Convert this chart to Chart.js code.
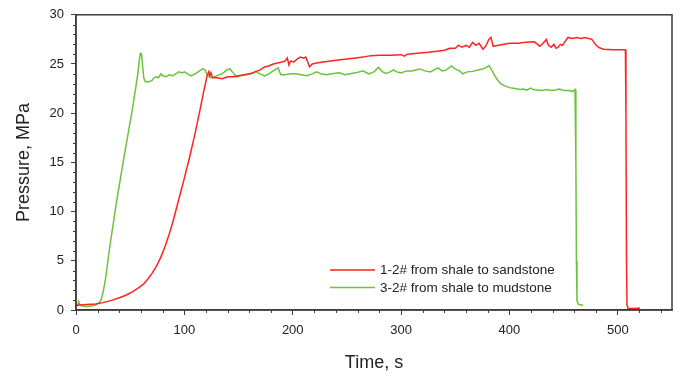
<!DOCTYPE html>
<html>
<head>
<meta charset="utf-8">
<script src="https://cdn.jsdelivr.net/npm/chart.js@4/dist/chart.umd.min.js"></script>
<style>
  html, body { margin: 0; padding: 0; background: #ffffff; }
  #wrap { width: 680px; height: 378px; position: relative; }
</style>
</head>
<body>
<div id="wrap"><canvas id="c"></canvas></div>
<script>
// ---- Data ----
const seriesNames = ['1-2# from shale to sandstone', '3-2# from shale to mudstone'];

const redTime = [0, 3, 10, 18, 25, 32, 40, 46, 52, 57, 62, 66, 70, 74, 78, 82, 86, 90, 95, 100,
  105, 110, 114, 118, 121, 122.5, 123.5, 124.5, 126, 130, 135, 140, 145, 150, 155, 160, 165, 170,
  174, 178, 182, 186, 190, 193, 195, 196.5, 198, 201, 204, 207, 210, 212, 213.5, 215.5, 218, 222,
  228, 235, 242, 250, 258, 265, 272, 280, 290, 300, 303, 306, 315, 325, 333, 340, 345, 350, 353,
  356, 360, 363, 366, 369, 372, 375.5, 378, 381, 383, 385, 390, 395, 400, 408, 415, 423, 426, 428,
  431, 434, 436, 438.5, 441, 443, 445, 447, 449, 452, 454, 458, 462, 466, 470, 473, 476, 478, 480,
  483, 487, 495, 507, 507.5, 508, 508.5, 509.5, 515, 520.5];
const redPressure = [0.45, 0.5, 0.55, 0.62, 0.75, 0.95, 1.25, 1.5, 1.85, 2.2, 2.6, 3.1, 3.7, 4.4,
  5.3, 6.4, 7.7, 9.2, 11.3, 13.4, 15.6, 18.0, 20.1, 22.3, 23.8, 24.2, 23.8, 24.1, 23.6, 23.6, 23.5,
  23.7, 23.7, 23.8, 23.9, 24.0, 24.2, 24.4, 24.7, 24.8, 25.0, 25.1, 25.2, 25.3, 25.6, 24.9, 25.3,
  25.2, 25.5, 25.7, 25.6, 25.7, 25.3, 24.7, 25.0, 25.1, 25.2, 25.3, 25.4, 25.5, 25.6, 25.7, 25.85,
  25.9, 25.9, 25.95, 25.8, 26.0, 26.1, 26.2, 26.3, 26.4, 26.6, 26.6, 26.9, 26.7, 26.9, 26.7, 27.2,
  26.9, 27.1, 26.5, 26.8, 27.5, 27.7, 26.8, 26.9, 27.0, 27.1, 27.1, 27.2, 27.25, 27.0, 26.8, 27.1,
  27.5, 26.9, 26.7, 27.0, 26.6, 26.7, 27.0, 26.9, 27.4, 27.7, 27.6, 27.7, 27.6, 27.7, 27.6, 27.5,
  27.2, 26.9, 26.65, 26.5, 26.45, 26.45, 20.0, 5.0, 0.5, 0.15, 0.15, 0.2];

const greenTime = [0, 1.5, 2.5, 3.5, 6, 10, 14, 18, 21, 23, 25, 27, 29, 31, 34, 37, 40, 43, 46, 49,
  52, 55, 57, 58.5, 59.5, 60.5, 61.5, 62.5, 64, 67, 70, 72, 74, 76, 78.5, 80, 83, 86, 89, 92, 95,
  98, 100, 103, 106, 110, 114, 117, 119, 121, 124, 128, 132, 136, 139, 142, 145, 148, 152, 157,
  162, 166, 170, 174, 178, 182, 186.5, 189, 193, 198, 203, 208, 213, 218, 222, 226, 231, 236, 243,
  248, 253, 258, 265, 270, 275, 279, 283, 286, 290, 293, 296, 300, 305, 310, 317, 322, 327, 334,
  338, 342, 346.5, 350, 354, 357, 361, 366, 371, 375, 378, 381, 383, 385, 387, 389.5, 392, 395,
  400, 405, 410, 413, 416, 419.5, 422, 426, 430, 434, 438, 442, 446, 450, 455, 458, 460.5, 461.3,
  461.8, 462.3, 463.5, 468];
const greenPressure = [0.3, 0.5, 0.85, 0.5, 0.4, 0.35, 0.4, 0.5, 0.7, 1.0, 1.8, 3.0, 4.6, 6.3, 8.5,
  10.7, 12.7, 14.7, 16.6, 18.5, 20.4, 22.5, 24.0, 25.5, 26.1, 26.0, 24.8, 23.6, 23.2, 23.2, 23.3,
  23.6, 23.7, 23.6, 24.0, 23.8, 23.7, 23.9, 23.8, 24.0, 24.2, 24.1, 24.2, 24.0, 23.8, 24.0, 24.3,
  24.5, 24.4, 23.9, 23.6, 23.7, 23.9, 24.1, 24.4, 24.5, 24.1, 23.7, 23.8, 23.9, 24.0, 24.2, 24.0,
  23.8, 24.0, 24.3, 24.6, 23.9, 23.9, 24.0, 24.0, 23.9, 23.8, 24.0, 24.2, 24.0, 23.9, 24.0, 24.1,
  23.9, 24.0, 24.1, 24.3, 24.0, 24.2, 24.65, 24.2, 24.05, 24.2, 24.4, 24.2, 24.1, 24.3, 24.3, 24.5,
  24.3, 24.2, 24.6, 24.3, 24.4, 24.8, 24.5, 24.3, 24.0, 24.2, 24.25, 24.4, 24.5, 24.6, 24.85, 24.5,
  24.1, 23.7, 23.3, 23.0, 22.8, 22.6, 22.5, 22.4, 22.45, 22.35, 22.55, 22.4, 22.35, 22.3, 22.4,
  22.3, 22.35, 22.45, 22.3, 22.3, 22.2, 22.4, 15.0, 5.0, 1.0, 0.6, 0.45];

const xRange = [0, 550];
const yRange = [0, 30];
const xMajorStep = 100, xMinorStep = 20;
const yMajorStep = 5, yMinorStep = 1;
const xTitle = 'Time, s';
const yTitle = 'Pressure, MPa';

// ---- Styling ----
const FONT = "'Liberation Sans', Arial, sans-serif";
const AXIS_COLOR = '#3c3c3c';
const TEXT_COLOR = '#222222';
const colors = ['#ff2222', '#6cc23a'];

function toPoints(xs, ys) { return xs.map((x, i) => ({ x: x, y: ys[i] })); }

const framePlugin = {
  id: 'frameAndMinor',
  afterDraw(chart) {
    const { ctx, chartArea: a, scales } = chart;
    ctx.save();
    ctx.strokeStyle = AXIS_COLOR;
    ctx.lineWidth = 1.5;
    ctx.strokeRect(a.left, a.top, a.right - a.left, a.bottom - a.top);
    // minor ticks
    ctx.lineWidth = 1;
    ctx.beginPath();
    for (let v = xRange[0]; v <= xRange[1]; v += xMinorStep) {
      if (v % xMajorStep === 0) continue;
      const px = Math.round(scales.x.getPixelForValue(v)) + 0.5;
      ctx.moveTo(px, a.bottom);
      ctx.lineTo(px, a.bottom + 3);
    }
    for (let v = yRange[0]; v <= yRange[1]; v += yMinorStep) {
      if (v % yMajorStep === 0) continue;
      const py = Math.round(scales.y.getPixelForValue(v)) + 0.5;
      ctx.moveTo(a.left - 3, py);
      ctx.lineTo(a.left, py);
    }
    ctx.stroke();
    // legend
    ctx.font = '13.5px ' + FONT;
    ctx.textBaseline = 'middle';
    ctx.textAlign = 'left';
    chart.data.datasets.forEach((ds, i) => {
      const y = a.bottom - 40 + i * 17.5;
      const x0 = a.left + 254;
      ctx.strokeStyle = ds.borderColor;
      ctx.lineWidth = 1.5;
      ctx.beginPath();
      ctx.moveTo(x0, y);
      ctx.lineTo(x0 + 45, y);
      ctx.stroke();
      ctx.fillStyle = TEXT_COLOR;
      ctx.fillText(ds.label, x0 + 50, y + 0.5);
    });
    ctx.restore();
  }
};

new Chart(document.getElementById('c'), {
  type: 'line',
  data: {
    datasets: [
      { label: seriesNames[0], data: toPoints(redTime, redPressure), borderColor: colors[0],
        backgroundColor: colors[0], borderWidth: 1.5, pointRadius: 0, tension: 0, fill: false },
      { label: seriesNames[1], data: toPoints(greenTime, greenPressure), borderColor: colors[1],
        backgroundColor: colors[1], borderWidth: 1.5, pointRadius: 0, tension: 0, fill: false }
    ]
  },
  options: {
    responsive: true,
    maintainAspectRatio: false,
    animation: false,
    devicePixelRatio: 1,
    layout: { padding: { left: 0, right: 8, top: 13, bottom: 0 } },
    plugins: { legend: { display: false }, tooltip: { enabled: false } },
    scales: {
      x: {
        type: 'linear', min: xRange[0], max: xRange[1],
        afterFit(s) { s.height = 68; },
        afterBuildTicks(s) { s.ticks = s.ticks.filter(t => t.value % xMajorStep === 0); },
        ticks: { stepSize: xMajorStep, color: TEXT_COLOR, font: { family: FONT, size: 13 }, padding: 8, maxRotation: 0 },
        grid: { drawOnChartArea: false, drawTicks: true, tickLength: 5, color: AXIS_COLOR, tickColor: AXIS_COLOR, tickWidth: 1 },
        border: { display: true, color: AXIS_COLOR, width: 1.5 },
        title: { display: true, text: xTitle, color: TEXT_COLOR, font: { family: FONT, size: 18 }, padding: { top: 0, bottom: 4 } }
      },
      y: {
        type: 'linear', min: yRange[0], max: yRange[1],
        afterFit(s) { s.width = 76; },
        ticks: { stepSize: yMajorStep, color: TEXT_COLOR, font: { family: FONT, size: 13 }, padding: 7 },
        grid: { drawOnChartArea: false, drawTicks: true, tickLength: 5, color: AXIS_COLOR, tickColor: AXIS_COLOR, tickWidth: 1 },
        border: { display: true, color: AXIS_COLOR, width: 1.5 },
        title: { display: true, text: yTitle, color: TEXT_COLOR, font: { family: FONT, size: 18 }, padding: { top: 13, bottom: 0 } }
      }
    }
  },
  plugins: [framePlugin]
});
</script>
</body>
</html>
